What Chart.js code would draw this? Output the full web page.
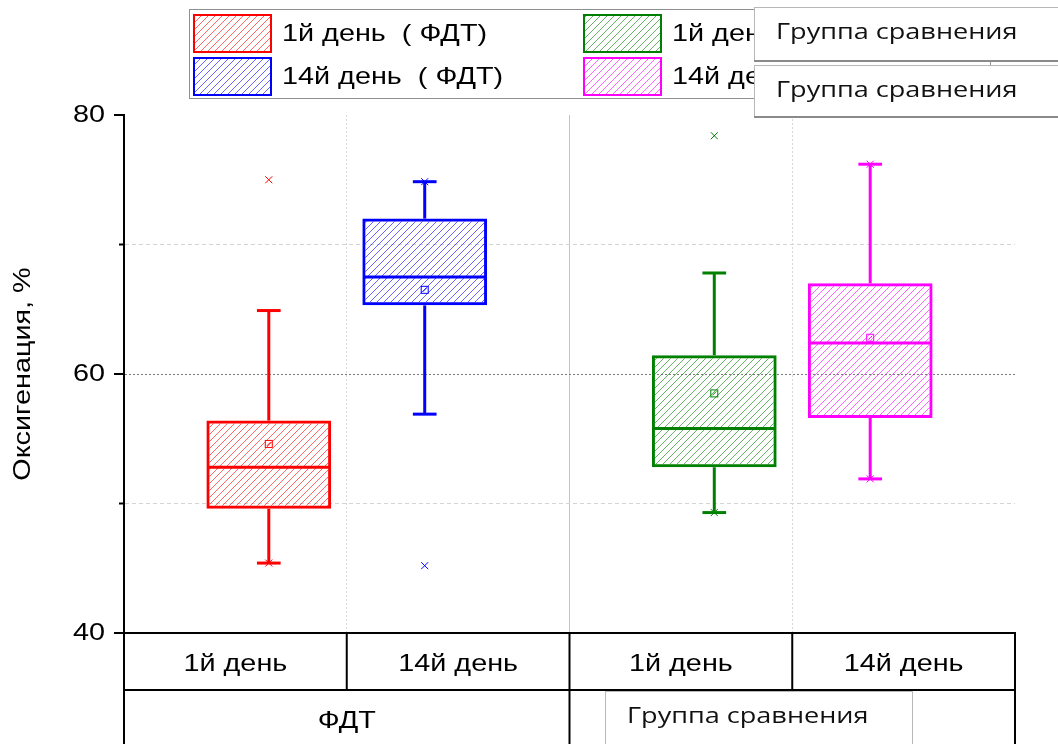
<!DOCTYPE html>
<html><head><meta charset="utf-8">
<script src="https://cdn.jsdelivr.net/npm/chart.js@4.4.1/dist/chart.umd.min.js"></script>
<style>html,body{margin:0;padding:0;background:#fff;} #wrap{width:1058px;height:744px;position:relative;}</style>
</head><body><div id="wrap"><canvas id="c"></canvas></div>
<script>
// ---- data ----
const groups = ['ФДТ', 'Группа сравнения'];
const dayLabels = ['1й день', '14й день', '1й день', '14й день'];
const seriesNames = ['1й день  ( ФДТ)', '14й день  ( ФДТ)', '1й день  (Группа сравнения)', '14й день  (Группа сравнения)'];
const seriesGroup = [0, 0, 1, 1];
const seriesDay = [0, 1, 0, 1];
const q1 = [49.6, 65.3, 52.8, 56.6];
const median = [52.8, 67.5, 55.8, 62.4];
const q3 = [56.4, 72.0, 61.45, 67.0];
const whiskerLow = [45.4, 56.9, 49.3, 51.9];
const whiskerHigh = [64.9, 74.85, 67.8, 76.2];
const means = [54.6, 66.5, 58.5, 62.8];
const minVals = [45.4, 45.2, 49.3, 51.9];
const maxVals = [75.0, 74.85, 78.4, 76.2];
const yMin = 40, yMax = 80, yStep = 10, yLabelStep = 20;
const yTitle = 'Оксигенация, %';

// ---- styles ----
const colors = ['#ff0000', '#0000ff', '#008000', '#ff00ff'];
const hatchColors = ['rgba(255,0,0,0.6)', 'rgba(0,0,255,0.6)', 'rgba(0,128,0,0.6)', 'rgba(255,0,255,0.6)'];
const SX = 1.2;
const FONT = '24px "Liberation Sans", Arial, sans-serif';
const POPFONT = '22px "Open Sans", sans-serif';

function hatch(color) {
  const s = 7;
  const c = document.createElement('canvas'); c.width = s; c.height = s;
  const g = c.getContext('2d');
  g.strokeStyle = color; g.lineWidth = 1;
  g.beginPath();
  g.moveTo(0, s); g.lineTo(s, 0);
  g.moveTo(-1, 1); g.lineTo(1, -1);
  g.moveTo(s - 1, s + 1); g.lineTo(s + 1, s - 1);
  g.stroke();
  return g.createPattern(c, 'repeat');
}
const patterns = hatchColors.map(hatch);

function sText(ctx, txt, x, y, font, align, color, sx) {
  sx = sx || SX;
  ctx.save();
  ctx.font = font; ctx.fillStyle = color; ctx.textBaseline = 'middle'; ctx.textAlign = 'left';
  const w = ctx.measureText(txt).width * sx;
  const x0 = align === 'center' ? x - w / 2 : (align === 'right' ? x - w : x);
  ctx.translate(x0, y); ctx.scale(sx, 1);
  ctx.fillText(txt, 0, 0);
  ctx.restore();
}
function line(ctx, x1, y1, x2, y2) { ctx.beginPath(); ctx.moveTo(x1, y1); ctx.lineTo(x2, y2); ctx.stroke(); }

const boxExtras = {
  id: 'boxExtras',
  afterDatasetsDraw(chart) {
    const ctx = chart.ctx, ys = chart.scales.y;
    for (let i = 0; i < q1.length; i++) {
      const el = chart.getDatasetMeta(i).data[seriesGroup[i]];
      if (!el) continue;
      const x = el.x, w = el.width;
      const P = v => ys.getPixelForValue(v);
      ctx.save();
      ctx.strokeStyle = colors[i]; ctx.lineWidth = 3; ctx.lineCap = 'butt';
      line(ctx, x, P(q3[i]), x, P(whiskerHigh[i]));
      line(ctx, x, P(q1[i]), x, P(whiskerLow[i]));
      const ch = w * 0.095;
      line(ctx, x - ch, P(whiskerHigh[i]), x + ch, P(whiskerHigh[i]));
      line(ctx, x - ch, P(whiskerLow[i]), x + ch, P(whiskerLow[i]));
      line(ctx, x - w / 2 + 1, P(median[i]), x + w / 2 - 1, P(median[i]));
      ctx.lineWidth = 1;
      const ym = P(means[i]);
      ctx.strokeRect(x - 3.5, ym - 3.5, 7, 7);
      line(ctx, x - 2, ym + 2, x + 2, ym - 2);
      [minVals[i], maxVals[i]].forEach(v => {
        const yy = P(v);
        line(ctx, x - 3.5, yy - 3.5, x + 3.5, yy + 3.5);
        line(ctx, x - 3.5, yy + 3.5, x + 3.5, yy - 3.5);
      });
      ctx.restore();
    }
  },
  afterDraw(chart) {
    const ctx = chart.ctx, ys = chart.scales.y, xs = chart.scales.x, x2 = chart.scales.x2;
    const area = chart.chartArea;
    ctx.save();
    // y tick marks and labels
    ctx.strokeStyle = '#000'; ctx.lineWidth = 2;
    ys.ticks.forEach(t => {
      const yy = ys.getPixelForValue(t.value);
      const major = t.value % yLabelStep === 0;
      line(ctx, area.left - (major ? 10 : 5), yy, area.left, yy);
      if (major) sText(ctx, String(t.value), area.left - 19, yy, FONT, 'right', '#000');
    });
    // y title
    ctx.save();
    ctx.translate(23, (area.top + area.bottom) / 2);
    ctx.rotate(-Math.PI / 2);
    sText(ctx, yTitle, 0, 0, FONT, 'center', '#000');
    ctx.restore();

    // bottom table
    const c0 = x2.getPixelForValue(0), c1 = x2.getPixelForValue(1);
    const half = (c1 - c0) / 2;
    const bounds = [];
    for (let k = 0; k <= dayLabels.length; k++) bounds.push(c0 - half + 2 * half * k);
    const rowH = 57;
    const r1 = area.bottom, r2 = area.bottom + rowH, r3 = chart.height;
    ctx.strokeStyle = '#000'; ctx.lineWidth = 2;
    line(ctx, area.left - 1, r1, bounds[bounds.length - 1] + 1, r1);
    line(ctx, area.left - 1, r2, bounds[bounds.length - 1] + 1, r2);
    bounds.forEach(b => line(ctx, b, r1, b, r2));
    const gb = [bounds[0], bounds[2], bounds[4]];
    gb.forEach(b => line(ctx, b, r2, b, r3));
    dayLabels.forEach((d, k) => sText(ctx, d, x2.getPixelForValue(k), r1 + 31, FONT, 'center', '#000'));
    groups.forEach((g, k) => sText(ctx, g, xs.getPixelForValue(k), r2 + 31, FONT, 'center', '#000'));

    // legend
    ctx.strokeStyle = '#909090'; ctx.lineWidth = 1;
    ctx.strokeRect(189.5, 9.5, 801, 89);
    const colX = [194, 584], rowY = [15, 58];
    seriesNames.forEach((n, i) => {
      const sx = colX[seriesGroup[i]], sy = rowY[seriesDay[i]];
      ctx.fillStyle = patterns[i];
      ctx.fillRect(sx, sy, 77, 37);
      ctx.strokeStyle = colors[i]; ctx.lineWidth = 2;
      ctx.strokeRect(sx, sy, 77, 37);
      sText(ctx, n, sx + 88, sy + 19, FONT, 'left', '#000');
    });

    // popup boxes
    function popup(x, y, w, h, txt) {
      ctx.fillStyle = '#fff';
      ctx.fillRect(x, y, w, h);
      ctx.strokeStyle = '#b8b8b8'; ctx.lineWidth = 1;
      ctx.strokeRect(x + 0.5, y + 0.5, w - 1, h - 1);
      ctx.strokeStyle = '#8a8a8a'; ctx.lineWidth = 2;
      line(ctx, x, y + h - 1, x + w, y + h - 1);
      sText(ctx, txt, x + 22, y + 26, POPFONT, 'left', '#111', 1.23);
    }
    popup(754, 7, 320, 55, groups[1]);
    popup(754, 65, 320, 53, groups[1]);
    popup(605, 691, 308, 70, groups[1]);
    ctx.restore();
  }
};

const datasets = q1.map((v, i) => ({
  label: seriesNames[i],
  data: groups.map((g, gi) => gi === seriesGroup[i] ? [q1[i], q3[i]] : null),
  backgroundColor: patterns[i],
  borderColor: colors[i],
  borderWidth: 3,
  borderSkipped: false,
  skipNull: true,
  categoryPercentage: 0.7,
  barPercentage: 0.8,
  xAxisID: 'x'
}));

new Chart(document.getElementById('c'), {
  type: 'bar',
  data: { labels: groups, datasets },
  options: {
    responsive: true, maintainAspectRatio: false, animation: false,
    layout: { padding: { top: 115, bottom: 111, right: 43, left: 0 } },
    plugins: { legend: { display: false }, tooltip: { enabled: false } },
    scales: {
      x: { display: false, offset: true },
      x2: {
        type: 'category', labels: dayLabels, offset: true, position: 'bottom',
        ticks: { display: false },
        border: { display: false, dash: c => (c.index === 2 ? [] : [2, 2]) },
        grid: {
          offset: true, drawTicks: false, lineWidth: 1,
          color: c => (c.index === 2 ? '#c4c4c4' : (c.index === 1 || c.index === 3) ? '#d8d8d8' : 'rgba(0,0,0,0)')
        }
      },
      y: {
        min: yMin, max: yMax,
        afterFit: s => { s.width = 124; },
        ticks: { display: false, stepSize: yStep },
        border: { display: true, color: '#000', width: 2, dash: c => (c.tick && c.tick.value === 60 ? [2, 2] : [4, 3]) },
        grid: {
          drawTicks: false, lineWidth: 1,
          color: c => {
            const v = c.tick ? c.tick.value : null;
            if (v === 60) return '#7a7a7a';
            if (v === 50 || v === 70) return '#d4d4d4';
            return 'rgba(0,0,0,0)';
          }
        }
      }
    }
  },
  plugins: [boxExtras]
});
</script></body></html>
